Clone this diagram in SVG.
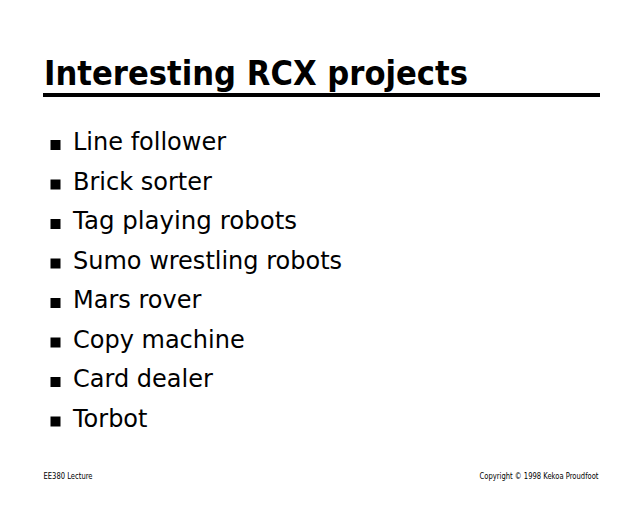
<svg xmlns="http://www.w3.org/2000/svg" width="640" height="505" viewBox="0 0 640 505">
<style>
.title{font-family:"DejaVu Sans",Verdana,sans-serif;font-weight:bold;font-size:34px;fill:#000}
.item{font-family:"DejaVu Sans",Verdana,sans-serif;font-size:24px;fill:#000}
.foot{font-family:"DejaVu Sans","Liberation Sans",sans-serif;font-size:8.5px;fill:#000}
.bullet{fill:#000}
</style>
<rect width="640" height="505" fill="#fff"/>
<g id="title">
<text class="title" x="44" y="85" textLength="424" lengthAdjust="spacingAndGlyphs">Interesting RCX projects</text>
<rect x="43" y="93" width="557" height="4" fill="#000"/>
</g>
<g id="items">
<g id="item1"><rect class="bullet" x="50.5" y="140" width="10" height="10"/><text class="item" x="73" y="150">Line follower</text></g>
<g id="item2"><rect class="bullet" x="50.5" y="179.5" width="10" height="10"/><text class="item" x="73" y="189.5">Brick sorter</text></g>
<g id="item3"><rect class="bullet" x="50.5" y="219" width="10" height="10"/><text class="item" x="73" y="229" textLength="224" lengthAdjust="spacingAndGlyphs">Tag playing robots</text></g>
<g id="item4"><rect class="bullet" x="50.5" y="258.5" width="10" height="10"/><text class="item" x="73" y="268.5">Sumo wrestling robots</text></g>
<g id="item5"><rect class="bullet" x="50.5" y="298" width="10" height="10"/><text class="item" x="73" y="308">Mars rover</text></g>
<g id="item6"><rect class="bullet" x="50.5" y="337.5" width="10" height="10"/><text class="item" x="73" y="347.5">Copy machine</text></g>
<g id="item7"><rect class="bullet" x="50.5" y="377" width="10" height="10"/><text class="item" x="73" y="387">Card dealer</text></g>
<g id="item8"><rect class="bullet" x="50.5" y="416.5" width="10" height="10"/><text class="item" x="73" y="426.5">Torbot</text></g>
</g>
<g id="footer">
<text class="foot" x="43.5" y="479" textLength="49" lengthAdjust="spacingAndGlyphs">EE380 Lecture</text>
<text class="foot" x="479.5" y="479" textLength="119" lengthAdjust="spacingAndGlyphs">Copyright © 1998 Kekoa Proudfoot</text>
</g>
</svg>
